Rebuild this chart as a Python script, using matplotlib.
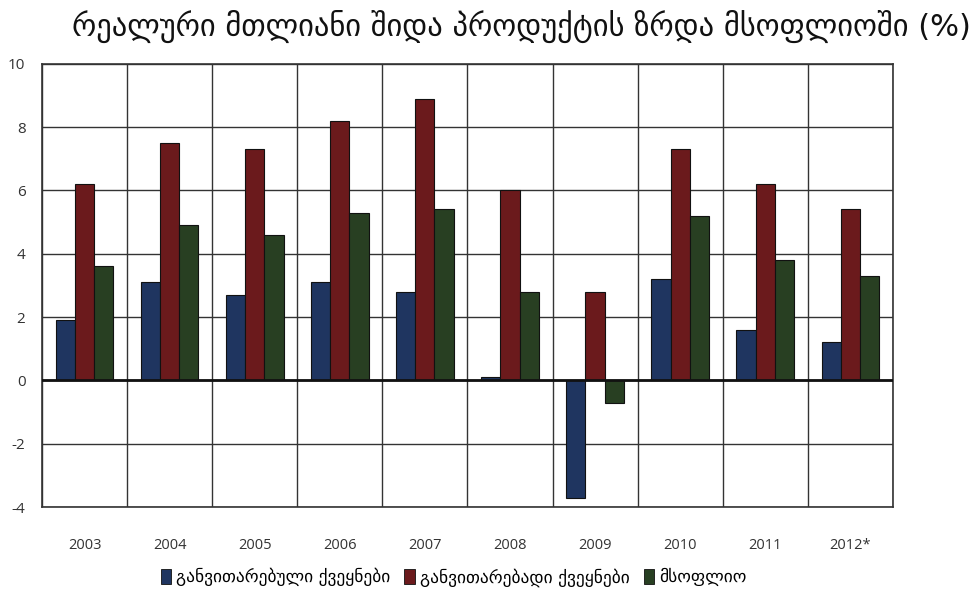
import matplotlib
matplotlib.use("Agg")
import matplotlib.pyplot as plt
import numpy as np
from matplotlib.patches import Patch

years = ["2003", "2004", "2005", "2006", "2007", "2008", "2009", "2010", "2011", "2012*"]
developed = [1.9, 3.1, 2.7, 3.1, 2.8, 0.1, -3.7, 3.2, 1.6, 1.2]
developing = [6.2, 7.5, 7.3, 8.2, 8.9, 6.0, 2.8, 7.3, 6.2, 5.4]
world = [3.6, 4.9, 4.6, 5.3, 5.4, 2.8, -0.7, 5.2, 3.8, 3.3]

series_names = ["განვითარებული ქვეყნები", "განვითარებადი ქვეყნები", "მსოფლიო"]
colors = ["#1f3560", "#6b1a1c", "#283f22"]

fig = plt.figure(figsize=(9.8, 5.91), dpi=100)
ax = fig.add_axes([0.043, 0.142, 0.868, 0.750])

x = np.arange(len(years))
w = 0.225
for i, (vals, c) in enumerate(zip([developed, developing, world], colors)):
    ax.bar(x + (i - 1) * w, vals, width=w, color=c, edgecolor="#111111",
           linewidth=0.8, zorder=3)

ax.set_xlim(-0.5, len(years) - 0.5)
ax.set_ylim(-4, 10)
ax.set_yticks(np.arange(-4, 11, 2))
ax.set_yticklabels([str(v) for v in range(-4, 11, 2)], fontsize=11,
                   fontfamily="Open Sans", color="#333333")
ax.set_xticks(x)
ax.set_xticklabels(years, fontsize=10.5, fontfamily="Open Sans", color="#333333")
ax.tick_params(axis="both", length=0)
ax.tick_params(axis="x", pad=22)
ax.tick_params(axis="y", pad=12)

# grid: horizontal at each tick, vertical at category boundaries
for yv in np.arange(-4, 11, 2):
    ax.axhline(yv, color="#333333", linewidth=1.0, zorder=1)
for xb in np.arange(-0.5, len(years), 1.0):
    ax.axvline(xb, color="#333333", linewidth=1.0, zorder=1)
ax.axhline(0, color="#111111", linewidth=2.0, zorder=4)

for s in ax.spines.values():
    s.set_color("#333333")
    s.set_linewidth(1.2)

handles = [Patch(facecolor=c, edgecolor="#111111", linewidth=0.6) for c in colors]
fig.legend(handles, series_names, loc="center", bbox_to_anchor=(0.463, 0.023),
           ncol=3, frameon=False, handlelength=0.6, handleheight=1.0,
           handletextpad=0.3, columnspacing=0.8,
           prop={"family": "DejaVu Sans", "size": 12.5})

fig.text(0.532, 0.955, "რეალური მთლიანი შიდა პროდუქტის ზრდა მსოფლიოში (%)",
         ha="center", va="center", fontsize=22, fontfamily="DejaVu Sans",
         color="#111111")

fig.savefig("out.png", dpi=100, facecolor="white")
